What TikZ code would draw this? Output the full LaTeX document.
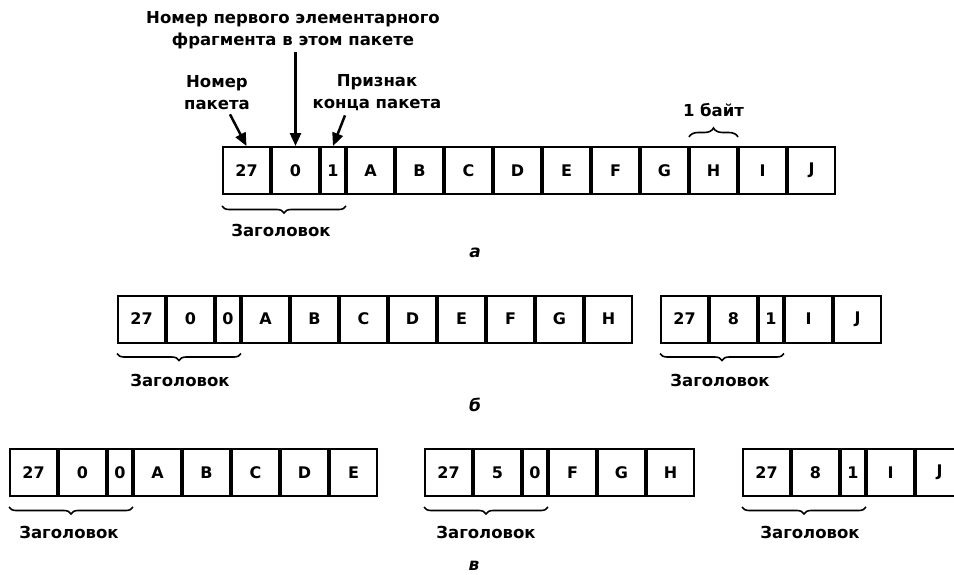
\documentclass[tikz,border=0pt]{standalone}
\usepackage{fontspec}
\setmainfont{DejaVu Sans}
\usetikzlibrary{arrows.meta,decorations.pathreplacing}
\begin{document}
\begin{tikzpicture}[x=1pt,y=-1pt,
  cell/.style={draw,line width=2pt,minimum width=47pt,minimum height=47pt,inner sep=0pt,anchor=west,font=\fontsize{16}{16}\selectfont\bfseries},
  narrow/.style={cell,minimum width=24pt},
  lbl/.style={font=\fontsize{16.5}{22}\selectfont\bfseries,align=center,inner sep=0pt},
  subcap/.style={font=\fontsize{17}{17}\selectfont\bfseries\itshape,inner sep=0pt},
  arr/.style={line width=2.5pt,-{Triangle[length=13pt,width=11pt]}},
  bracedn/.style={decorate,line width=1.6pt,decoration={brace,amplitude=7pt,mirror}},
  braceup/.style={decorate,line width=1.6pt,decoration={brace,amplitude=9pt}}]
\useasboundingbox (0,0) rectangle (954,574);
% ---- row a ----
\node[cell]   (a1) at (222,170.5) {27};
\node[cell]   (a2) at (a1.east) {0};
\node[narrow] (a3) at (a2.east) {1};
\node[cell]   (aA) at (a3.east) {A};
\node[cell]   (aB) at (aA.east) {B};
\node[cell]   (aC) at (aB.east) {C};
\node[cell]   (aD) at (aC.east) {D};
\node[cell]   (aE) at (aD.east) {E};
\node[cell]   (aF) at (aE.east) {F};
\node[cell]   (aG) at (aF.east) {G};
\node[cell]   (aH) at (aG.east) {H};
\node[cell]   (aI) at (aH.east) {I};
\node[cell]   (aJ) at (aI.east) {J};
\node[lbl] (ttop) at (293,30) {Номер первого элементарного\\фрагмента в этом пакете};
\node[lbl] (tpkt) at (217,93) {Номер\\пакета};
\node[lbl] (tend) at (377,93) {Признак\\конца пакета};
\draw[arr] ([xshift=13pt,yshift=-4pt]tpkt.south) -- (a1.north);
\draw[arr] ([yshift=-3pt]ttop.south -| a2.north) -- (a2.north);
\draw[arr] ([xshift=-32pt,yshift=-4pt]tend.south) -- (a3.north);
\draw[braceup] ([yshift=9pt]aH.north west) -- ([yshift=9pt]aH.north east) node[midway,above=19pt,lbl] (tbyte) {1 байт};
\draw[bracedn] ([yshift=-11pt]a1.south west) -- ([yshift=-11pt]a3.south east);
\node[lbl] (ahdr) at (281,230) {Заголовок};
\node[subcap] (capa) at (475,253) {а};
% ---- row b ----
\node[cell]   (b1) at (117,319) {27};
\node[cell]   (b2) at (b1.east) {0};
\node[narrow] (b3) at (b2.east) {0};
\node[cell]   (bA) at (b3.east) {A};
\node[cell]   (bB) at (bA.east) {B};
\node[cell]   (bC) at (bB.east) {C};
\node[cell]   (bD) at (bC.east) {D};
\node[cell]   (bE) at (bD.east) {E};
\node[cell]   (bF) at (bE.east) {F};
\node[cell]   (bG) at (bF.east) {G};
\node[cell]   (bH) at (bG.east) {H};
\draw[bracedn] ([yshift=-10pt]b1.south west) -- ([yshift=-10pt]b3.south east);
\node[lbl] (bhdr) at (180,380) {Заголовок};
\node[cell]   (c1) at (660,319) {27};
\node[cell]   (c2) at (c1.east) {8};
\node[narrow] (c3) at (c2.east) {1};
\node[cell]   (cI) at (c3.east) {I};
\node[cell]   (cJ) at (cI.east) {J};
\draw[bracedn] ([yshift=-10pt]c1.south west) -- ([yshift=-10pt]c3.south east);
\node[lbl] (chdr) at (720,380) {Заголовок};
\node[subcap] (capb) at (475,405) {б};
% ---- row v ----
\node[cell]   (d1) at (9,472.5) {27};
\node[cell]   (d2) at (d1.east) {0};
\node[narrow] (d3) at (d2.east) {0};
\node[cell]   (dA) at (d3.east) {A};
\node[cell]   (dB) at (dA.east) {B};
\node[cell]   (dC) at (dB.east) {C};
\node[cell]   (dD) at (dC.east) {D};
\node[cell]   (dE) at (dD.east) {E};
\draw[bracedn] ([yshift=-10pt]d1.south west) -- ([yshift=-10pt]d3.south east);
\node[lbl] (dhdr) at (69,532) {Заголовок};
\node[cell]   (e1) at (424,472.5) {27};
\node[cell]   (e2) at (e1.east) {5};
\node[narrow] (e3) at (e2.east) {0};
\node[cell]   (eF) at (e3.east) {F};
\node[cell]   (eG) at (eF.east) {G};
\node[cell]   (eH) at (eG.east) {H};
\draw[bracedn] ([yshift=-10pt]e1.south west) -- ([yshift=-10pt]e3.south east);
\node[lbl] (ehdr) at (486,532) {Заголовок};
\node[cell]   (f1) at (742,472.5) {27};
\node[cell]   (f2) at (f1.east) {8};
\node[narrow] (f3) at (f2.east) {1};
\node[cell]   (fI) at (f3.east) {I};
\node[cell]   (fJ) at (fI.east) {J};
\draw[bracedn] ([yshift=-10pt]f1.south west) -- ([yshift=-10pt]f3.south east);
\node[lbl] (fhdr) at (810,532) {Заголовок};
\node[subcap] (capv) at (474,566) {в};
\end{tikzpicture}
\end{document}
